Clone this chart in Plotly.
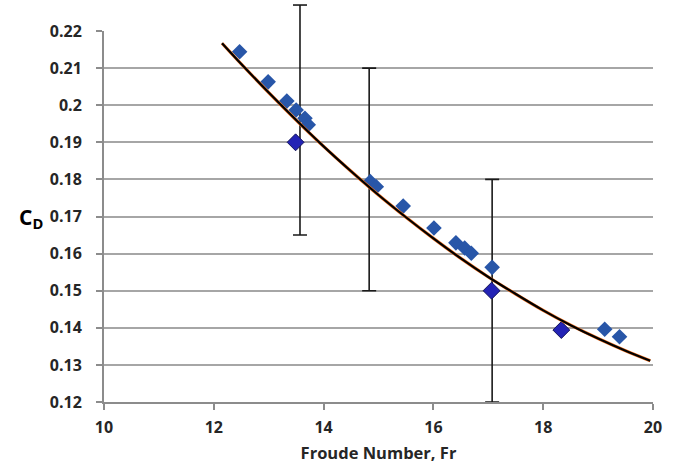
import plotly.graph_objects as go

# Light-blue measured points
fr_a = [12.47, 12.99, 13.33, 13.50, 13.66, 13.72, 14.85, 14.96, 15.45, 16.01,
        16.41, 16.57, 16.69, 17.07, 19.12, 19.39]
cd_a = [0.2144, 0.2063, 0.2011, 0.1987, 0.1965, 0.1947, 0.1794, 0.1780, 0.1728, 0.1669,
        0.1629, 0.1615, 0.1601, 0.1563, 0.1396, 0.1376]

# Dark-blue points
fr_b = [13.49, 17.06, 18.33]
cd_b = [0.190, 0.150, 0.1394]

# Error bars
fr_err = [13.57, 14.83, 17.07]
cd_err = [0.196, 0.180, 0.150]
err = [0.031, 0.030, 0.030]

# Fitted curve
fr_fit = [12.15, 12.5, 13.0, 13.5, 14.0, 14.5, 15.0, 15.5, 16.0, 16.5, 17.0, 17.5,
          18.0, 18.5, 19.0, 19.5, 19.95]
cd_fit = [0.2167, 0.2111, 0.2034, 0.1960, 0.1889, 0.1822, 0.1758, 0.1698, 0.1641,
          0.1587, 0.1537, 0.1491, 0.1447, 0.1407, 0.1371, 0.1338, 0.1311]

x_range = [10, 20]
y_range = [0.12, 0.22]
x_ticks = [10, 12, 14, 16, 18, 20]
y_ticks = [0.12, 0.13, 0.14, 0.15, 0.16, 0.17, 0.18, 0.19, 0.2, 0.21, 0.22]
y_labels = ["0.12", "0.13", "0.14", "0.15", "0.16", "0.17", "0.18", "0.19", "0.2", "0.21", "0.22"]

fig = go.Figure()

fig.add_trace(go.Scatter(
    x=fr_err, y=cd_err, mode="markers",
    marker=dict(size=1, color="rgba(0,0,0,0)"),
    error_y=dict(type="data", array=err, visible=True, color="#1a1a1a",
                 thickness=1.6, width=7),
    hoverinfo="skip", showlegend=False))

# parts of error bars that reach above the top of the axis (not clipped)
for xv, yv, ev in zip(fr_err, cd_err, err):
    top = yv + ev
    if top > y_range[1]:
        frac_top = (top - y_range[0]) / (y_range[1] - y_range[0])
        fig.add_shape(type="line", xref="x", yref="y domain",
                      x0=xv, x1=xv, y0=1.0, y1=frac_top,
                      line=dict(color="#1a1a1a", width=1.6))
        fig.add_shape(type="line", xref="x", yref="y domain",
                      xsizemode="pixel", xanchor=xv, x0=-7, x1=7,
                      y0=frac_top, y1=frac_top,
                      line=dict(color="#1a1a1a", width=1.6))

fig.add_trace(go.Scatter(
    x=fr_a, y=cd_a, mode="markers",
    marker=dict(symbol="diamond", size=12, color="#2856a8"),
    showlegend=False))

fig.add_trace(go.Scatter(
    x=fr_b, y=cd_b, mode="markers",
    marker=dict(symbol="diamond", size=13, color="#2323b5",
                line=dict(color="#15155a", width=1)),
    showlegend=False))

fig.add_trace(go.Scatter(
    x=fr_fit, y=cd_fit, mode="lines",
    line=dict(color="#f07020", width=3.2, shape="spline"),
    showlegend=False, hoverinfo="skip"))
fig.add_trace(go.Scatter(
    x=fr_fit, y=cd_fit, mode="lines",
    line=dict(color="#000000", width=2.2, shape="spline"),
    showlegend=False))

fig.add_annotation(
    x=-0.133, xref="paper", xanchor="center", y=0.1695, yref="y",
    text="<b>C<sub>D</sub></b>", showarrow=False,
    font=dict(family="Open Sans", size=21, color="#000000"))

tick_font = dict(family="Open Sans", size=16, color="#262626", weight="bold")

fig.update_xaxes(
    range=x_range, tickvals=x_ticks, ticktext=[str(v) for v in x_ticks],
    showgrid=False, showline=True, linecolor="#8c8c8c", linewidth=2,
    ticks="outside", ticklen=6, tickcolor="#8c8c8c", tickwidth=2,
    ticklabelstandoff=4,
    tickfont=tick_font,
    title=dict(text="Froude Number, Fr", standoff=10,
               font=dict(family="Open Sans", size=16.5, color="#262626", weight="bold")),
    zeroline=False)

fig.update_yaxes(
    range=y_range, tickvals=y_ticks, ticktext=y_labels,
    showgrid=True, gridcolor="#a6a6a6", gridwidth=2,
    showline=True, linecolor="#8c8c8c", linewidth=2,
    ticks="outside", ticklen=6, tickcolor="#8c8c8c", tickwidth=2,
    ticklabelstandoff=11,
    tickfont=tick_font,
    zeroline=False)

fig.update_layout(
    width=681, height=473,
    margin=dict(l=104, r=28, t=31, b=71),
    paper_bgcolor="white", plot_bgcolor="white",
    showlegend=False)

fig.write_html("out.html")
